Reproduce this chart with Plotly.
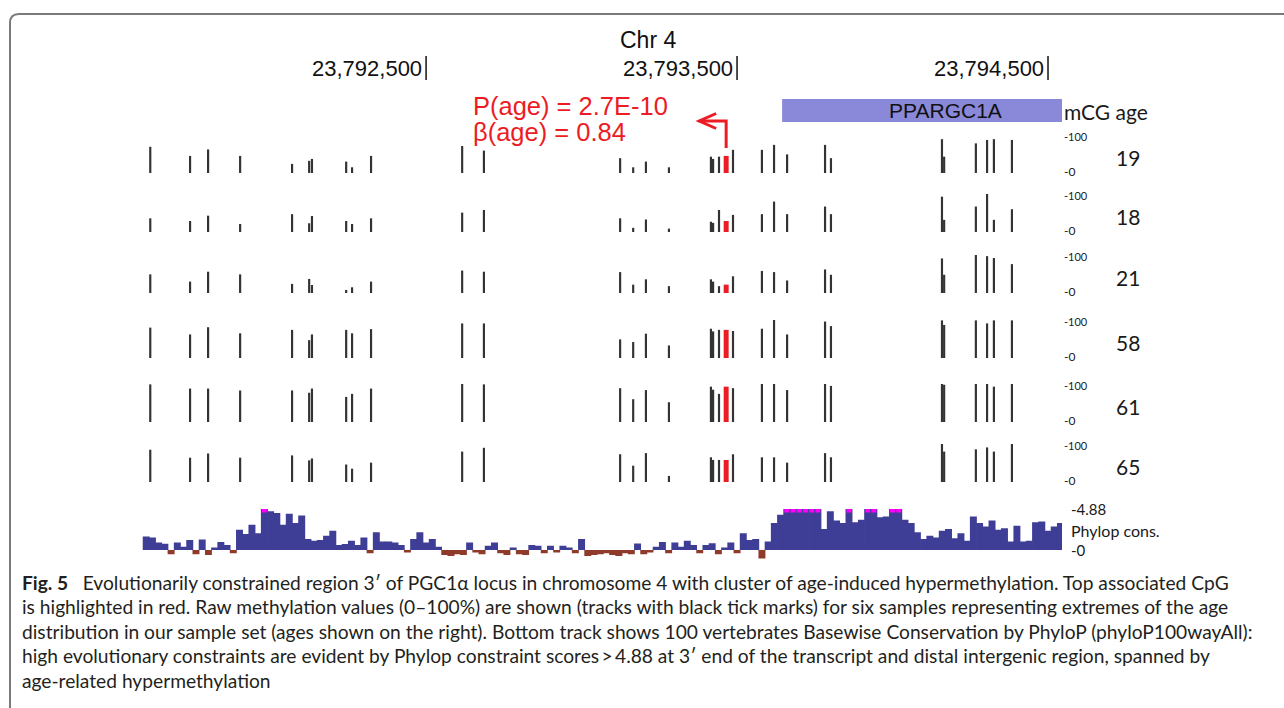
import plotly.graph_objects as go

# ---------------- data ----------------
chrom_label = "Chr 4"
tick_pos = [23792500, 23793500, 23794500]
tick_labels = ["23,792,500", "23,793,500", "23,794,500"]

cpg_pos = [23791613, 23791741, 23791799, 23791902, 23792069, 23792124, 23792133,
           23792243, 23792262, 23792323, 23792616, 23792686, 23793124, 23793166,
           23793207, 23793281, 23793416, 23793423, 23793442, 23793465, 23793487,
           23793580, 23793619, 23793661, 23793783, 23793802, 23794159, 23794166,
           23794268, 23794304, 23794326, 23794384]
top_cpg = 23793465
p_label = "P(age) = 2.7E-10"
beta_label = "\u03b2(age) = 0.84"

sample_ages = ["19", "18", "21", "58", "61", "65"]
meth_age19 = [69, 45, 62, 45, 24, 32, 37, 30, 15, 45, 71, 59, 39, 15, 30, 15,
              43, 37, 43, 45, 61, 61, 74, 49, 74, 39, 89, 43, 78, 87, 89, 87]
meth_age18 = [36, 29, 43, 21, 47, 23, 42, 29, 21, 36, 51, 58, 36, 11, 33, 9,
              27, 24, 58, 29, 45, 47, 80, 47, 67, 47, 93, 32, 67, 100, 32, 60]
meth_age21 = [49, 30, 56, 49, 24, 37, 21, 8, 15, 30, 59, 56, 55, 22, 36, 18,
              36, 30, 18, 22, 44, 58, 55, 33, 62, 48, 91, 48, 100, 97, 92, 76]
meth_age58 = [80, 62, 81, 65, 74, 47, 62, 74, 65, 76, 91, 91, 49, 42, 64, 33,
              77, 70, 74, 74, 71, 77, 100, 62, 96, 84, 99, 87, 99, 91, 99, 99]
meth_age61 = [99, 88, 88, 83, 83, 77, 88, 66, 74, 88, 100, 99, 89, 60, 84, 52,
              93, 85, 74, 93, 89, 100, 100, 84, 100, 95, 100, 98, 100, 100, 93, 100]
meth_age65 = [85, 64, 75, 64, 70, 57, 62, 46, 35, 51, 80, 90, 73, 43, 76, 16,
              65, 58, 58, 58, 73, 65, 65, 51, 76, 65, 100, 80, 86, 91, 80, 100]
meth_tracks = [meth_age19, meth_age18, meth_age21, meth_age58, meth_age61, meth_age65]

gene_name = "PPARGC1A"
gene_start = 23793645
gene_end = 23794600
gene_label_pos = 23794170

cons_start = 23791590
cons_step = 20
cons_scores = [
    1.6, 1.5, 0.9, 0.75, -0.5, 0.9, 0.4, 1.2, -0.5, 1.25,
    -0.6, 0.3, 0.95, 0.6, -0.4, 2.4, 1.9, 3.0, 2.0, 5.2,
    4.6, 4.4, 3.0, 4.3, 3.2, 4.1, 1.3, 1.1, 1.2, 1.7,
    2.3, 0.6, 0.7, 1.1, 0.6, 1.5, -0.4, 2.1, 1.0, 1.0,
    0.9, 0.6, -0.3, 1.3, 2.1, 0.9, 1.3, 0.4, -0.6, -0.7,
    -0.5, -0.6, 0.9, -0.3, -0.5, 0.5, 0.9, -0.4, -0.6, 0.3,
    -0.5, -0.6, 0.6, 0.5, -0.4, 0.5, -0.3, 0.5, 0.3, -0.4,
    1.3, -0.7, -0.6, -0.5, -0.4, -0.6, -0.7, -0.4, -0.5, 0.76,
    -0.5, -0.3, 0.4, 0.95, -0.4, 0.9, 0.4, 1.1, 0.6, -0.4,
    0.6, 0.8, -0.5, 0.3, 0.9, -0.4, 2.0, 1.2, 1.3, -1.0,
    1.0, 3.2, 4.2, 5.2, 5.2, 5.2, 5.2, 5.2, 5.2, 2.5,
    4.6, 3.5, 3.2, 5.2, 3.3, 3.6, 5.2, 5.2, 3.9, 4.0,
    5.2, 5.2, 3.6, 3.2, 2.1, 1.3, 1.7, 1.5, 2.3, 2.5,
    1.4, 2.0, 1.1, 4.0, 3.2, 2.8, 3.5, 2.4, 2.6, 1.0,
    2.9, 1.0, 1.1, 3.3, 3.4, 2.3, 2.8, 3.2]
cons_max = 4.88
cons_max_label = "-4.88"
cons_name = "Phylop cons."

caption_lines = [
    "<b>Fig. 5</b>\u2002 Evolutionarily constrained region 3\u2032 of PGC1\u03b1 locus in chromosome 4 with cluster of age-induced hypermethylation. Top associated CpG",
    "is highlighted in red. Raw methylation values (0\u2013100%) are shown (tracks with black tick marks) for six samples representing extremes of the age",
    "distribution in our sample set (ages shown on the right). Bottom track shows 100 vertebrates Basewise Conservation by PhyloP (phyloP100wayAll):",
    "high evolutionary constraints are evident by Phylop constraint scores\u2009>\u20094.88 at 3\u2032 end of the transcript and distal intergenic region, spanned by",
    "age-related hypermethylation",
]

# ---------------- layout constants ----------------
W, H = 1284, 708
X_RANGE = [23791580, 23794545]
X_DOM_PX = (140, 1062)
ROW_BASE_PX = [173, 232, 293, 358, 422, 482]
ROW_H_PX = 38
GENE_PX = (99, 122)
CONS_TOP_PX, CONS_BASE_PX = 509, 550
CONS_MIN = -1.5
CAPTION_Y_PX = [582, 606, 631, 655, 680]

BAR_COLOR = "#333333"
RED = "#ec1c24"
CONS_BLUE = "#3e3e96"
CONS_BROWN = "#8e3b2c"
CONS_CAP = "#ff00ff"
GENE_COLOR = "#8a88d8"
TXT = "#1a1a1a"
ARIAL = "Liberation Sans, Arial, sans-serif"
MYRIAD = "Lato, Open Sans, sans-serif"


def xp(px):
    return px / W


def yp(px):
    return 1 - px / H


def text(t, x, y, xref="paper", yref="paper", xanchor="center", size=16,
         family=MYRIAD, color=TXT, **kw):
    d = dict(text=t, x=x, y=y, xref=xref, yref=yref, xanchor=xanchor,
             yanchor="middle", showarrow=False,
             font=dict(family=family, size=size, color=color))
    d.update(kw)
    return d


fig = go.Figure()
layout = dict(
    width=W, height=H, margin=dict(l=0, r=0, t=0, b=0),
    paper_bgcolor="white", plot_bgcolor="rgba(0,0,0,0)",
    showlegend=False, barmode="overlay",
    xaxis=dict(domain=[xp(X_DOM_PX[0]), xp(X_DOM_PX[1])], range=X_RANGE,
               visible=False, fixedrange=True),
)

# methylation tracks
for k, vals in enumerate(meth_tracks):
    ax = "y" if k == 0 else f"y{k + 1}"
    key = "yaxis" if k == 0 else f"yaxis{k + 1}"
    base = ROW_BASE_PX[k]
    layout[key] = dict(domain=[yp(base), yp(base - ROW_H_PX)], range=[0, 100],
                       visible=False, fixedrange=True, anchor="x")
    colors = [RED if p == top_cpg else BAR_COLOR for p in cpg_pos]
    widths = [16 if p == top_cpg else 7 for p in cpg_pos]
    fig.add_trace(go.Bar(x=cpg_pos, y=vals, width=widths, marker_color=colors,
                         marker_line_width=0, xaxis="x", yaxis=ax,
                         hoverinfo="x+y"))

# gene track
layout["yaxis7"] = dict(domain=[yp(GENE_PX[1]), yp(GENE_PX[0])], range=[-0.5, 0.5],
                        visible=False, fixedrange=True, anchor="x")
fig.add_trace(go.Bar(y=[0], x=[gene_end - gene_start], base=[gene_start],
                     orientation="h", width=1, marker_color=GENE_COLOR,
                     marker_line_width=0, xaxis="x", yaxis="y7"))

# conservation track
px_per_unit = (CONS_BASE_PX - CONS_TOP_PX) / cons_max
cons_bottom_px = CONS_BASE_PX - CONS_MIN * px_per_unit
layout["yaxis8"] = dict(domain=[yp(cons_bottom_px), yp(CONS_TOP_PX)],
                        range=[CONS_MIN, cons_max], visible=False,
                        fixedrange=True, anchor="x")
cons_x = [cons_start + cons_step * (i + 0.5) for i in range(len(cons_scores))]
pos_vals = [min(v, cons_max) if v > 0 else 0 for v in cons_scores]
neg_vals = [v if v < 0 else 0 for v in cons_scores]
cap_x = [x for x, v in zip(cons_x, cons_scores) if v > cons_max]
cap_h = 0.42
fig.add_trace(go.Bar(x=cons_x, y=pos_vals, width=cons_step * 1.12,
                     marker_color=CONS_BLUE, marker_line_width=0,
                     xaxis="x", yaxis="y8"))
fig.add_trace(go.Bar(x=cons_x, y=neg_vals, width=cons_step * 1.12,
                     marker_color=CONS_BROWN, marker_line_width=0,
                     xaxis="x", yaxis="y8"))
fig.add_trace(go.Bar(x=cap_x, y=[cap_h] * len(cap_x),
                     base=[cons_max - cap_h] * len(cap_x),
                     width=cons_step * 0.8, marker_color=CONS_CAP,
                     marker_line_width=0, xaxis="x", yaxis="y8"))

ann = []
shapes = []

# header
ann.append(text(chrom_label, xp(648), yp(40), size=23, family=ARIAL, color="#111"))
for p, t in zip(tick_pos, tick_labels):
    ann.append(text(t, p, yp(68), xref="x", xanchor="right", xshift=-2,
                    size=22, family=ARIAL, color="#111"))
    shapes.append(dict(type="line", xref="x", yref="paper", x0=p, x1=p,
                       y0=yp(80), y1=yp(56), line=dict(color="#111", width=1.5)))

# p-value text and arrow
ann.append(text(p_label, xp(471), yp(106), xanchor="left", size=25.5,
                family=ARIAL, color=RED))
ann.append(text(beta_label, xp(471), yp(132), xanchor="left", size=25.5,
                family=ARIAL, color=RED))
bp_per_px = (X_RANGE[1] - X_RANGE[0]) / (X_DOM_PX[1] - X_DOM_PX[0])
head = top_cpg - 27 * bp_per_px
arm = head + 17 * bp_per_px
shapes.append(dict(type="path", xref="x", yref="paper",
                   path=f"M {top_cpg} {yp(148)} L {top_cpg} {yp(121)} L {head} {yp(121)}",
                   line=dict(color=RED, width=3)))
shapes.append(dict(type="path", xref="x", yref="paper",
                   path=f"M {arm} {yp(113.5)} L {head} {yp(121)} L {arm} {yp(128.5)}",
                   line=dict(color=RED, width=3)))

# gene label
ann.append(text(gene_name, gene_label_pos, 0, xref="x", yref="y7", size=21,
                family=ARIAL, color="#111"))
ann.append(text("mCG age", xp(1062), yp(111), xanchor="left", size=21))

# row labels
for k, age in enumerate(sample_ages):
    ay = "y" if k == 0 else f"y{k + 1}"
    ann.append(text("-100", xp(1062), 95, yref=ay, xanchor="left", size=11))
    ann.append(text("-0", xp(1062), 3, yref=ay, xanchor="left", size=12))
    ann.append(text(age, xp(1128), 40, yref=ay, size=21))

# conservation labels
ann.append(text(cons_max_label, xp(1069), cons_max, yref="y8", xanchor="left", size=15))
ann.append(text(cons_name, xp(1069), yp(530), xanchor="left", size=16))
ann.append(text("-0", xp(1069), 0, yref="y8", xanchor="left", size=15))

# caption
for line, ypx in zip(caption_lines, CAPTION_Y_PX):
    ann.append(text(line, xp(20), yp(ypx), xanchor="left", size=19.2, color="#231f20"))

# frame
shapes.append(dict(type="path", xref="paper", yref="paper",
                   path=(f"M {xp(1300)} {yp(14)} L {xp(19)} {yp(14)} "
                         f"Q {xp(10)} {yp(14)} {xp(10)} {yp(23)} L {xp(10)} {yp(720)}"),
                   line=dict(color="#7a7a7a", width=2)))

layout["annotations"] = ann
layout["shapes"] = shapes
fig.update_layout(**layout)
fig.write_html("out.html", config={"displayModeBar": False},
               post_script="document.body.style.margin='0';"
                           "document.body.style.overflow='hidden';")
